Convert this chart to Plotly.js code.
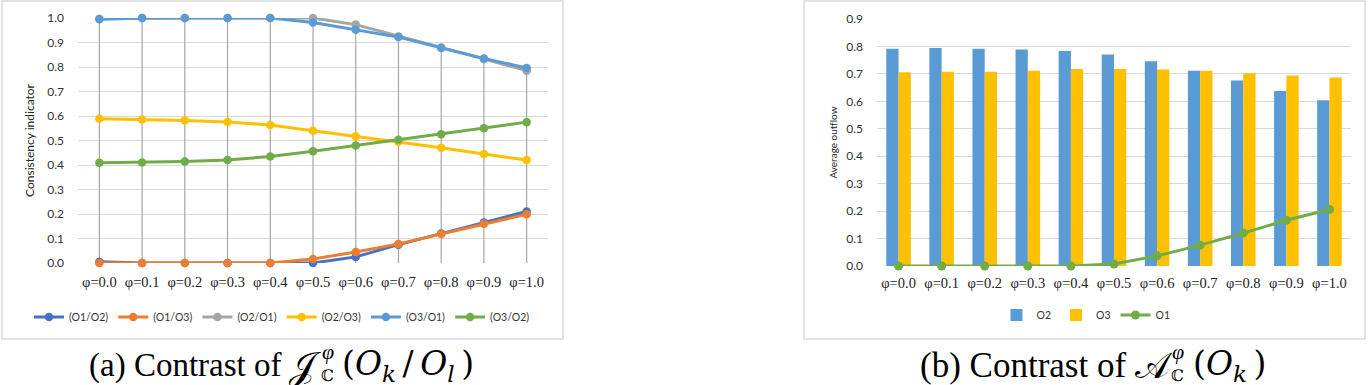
<!DOCTYPE html>
<html>
<head>
<meta charset="utf-8">
<script src="https://cdn.plot.ly/plotly-3.0.1.min.js"></script>
<style>html,body{margin:0;padding:0;background:#fff;}#chart{width:1370px;height:385px;}</style>
</head>
<body>
<div id="chart"></div>
<script>
// ---------- data ----------
const phiLabels = ['φ=0.0','φ=0.1','φ=0.2','φ=0.3','φ=0.4','φ=0.5','φ=0.6','φ=0.7','φ=0.8','φ=0.9','φ=1.0'];

// panel (a): consistency indicator
const seriesNamesA = ['(O1/O2)','(O1/O3)','(O2/O1)','(O2/O3)','(O3/O1)','(O3/O2)'];
const o1o2 = [0.005,0,0,0,0,0,0.025,0.075,0.12,0.165,0.21];
const o1o3 = [0,0,0,0,0,0.016,0.045,0.078,0.118,0.16,0.199];
const o2o1 = [0.997,1,1,1,1,1,0.973,0.925,0.88,0.833,0.785];
const o2o3 = [0.589,0.586,0.582,0.576,0.563,0.54,0.517,0.495,0.47,0.445,0.42];
const o3o1 = [0.995,1,1,1,1,0.982,0.952,0.922,0.878,0.835,0.796];
const o3o2 = [0.409,0.41,0.414,0.42,0.435,0.456,0.48,0.503,0.526,0.55,0.575];

// panel (b): average outflow
const outO2 = [0.792,0.794,0.792,0.789,0.783,0.771,0.746,0.711,0.676,0.638,0.604];
const outO3 = [0.706,0.708,0.708,0.711,0.718,0.718,0.716,0.711,0.702,0.694,0.687];
const outO1 = [0,0,0,0,0,0.007,0.037,0.076,0.12,0.167,0.206];

// ---------- styling ----------
const colorsA = ['#4472C4','#ED7D31','#A5A5A5','#FFC000','#5B9BD5','#70AD47'];
const W = 1370, H = 385;
const px = x => x / W;
const py = y => 1 - y / H;
const sansFont = 'Lato, "Open Sans", sans-serif';
const serifFont = '"Liberation Serif", "DejaVu Serif", serif';
const mathFont = '"DejaVu Serif", serif';

const seriesA = [o1o2, o1o3, o2o1, o2o3, o3o1, o3o2];

// drop lines (from highest series value down to zero, per category)
const dropX = [], dropY = [];
phiLabels.forEach((c, i) => {
  const top = Math.max(...seriesA.map(s => s[i]));
  dropX.push(c, c, null);
  dropY.push(top, 0, null);
});

const traces = [];
traces.push({
  x: dropX, y: dropY, xaxis: 'x', yaxis: 'y', mode: 'lines',
  line: {color: '#A6A6A6', width: 1.2}, showlegend: false, hoverinfo: 'skip'
});
seriesA.forEach((s, k) => {
  traces.push({
    x: phiLabels, y: s, name: seriesNamesA[k], xaxis: 'x', yaxis: 'y',
    mode: 'lines+markers', cliponaxis: false,
    line: {color: colorsA[k], width: 3},
    marker: {color: colorsA[k], size: 8.5},
    legend: 'legend'
  });
});

traces.push({
  x: phiLabels, y: outO2, name: 'O2', type: 'bar', xaxis: 'x2', yaxis: 'y2',
  marker: {color: '#5B9BD5'}, legend: 'legend2'
});
traces.push({
  x: phiLabels, y: outO3, name: 'O3', type: 'bar', xaxis: 'x2', yaxis: 'y2',
  marker: {color: '#FFC000'}, legend: 'legend2'
});
traces.push({
  x: phiLabels, y: outO1, name: 'O1', xaxis: 'x2', yaxis: 'y2',
  mode: 'lines+markers', cliponaxis: false,
  line: {color: '#70AD47', width: 3}, marker: {color: '#70AD47', size: 9},
  legend: 'legend2'
});

const tickFontY = {family: sansFont, size: 12, color: '#333'};
const tickFontX = {family: serifFont, size: 14.5, color: '#222'};

const capY = 365;
const layout = {
  width: W, height: H,
  margin: {l: 0, r: 0, t: 0, b: 0},
  paper_bgcolor: '#fff', plot_bgcolor: 'rgba(0,0,0,0)',
  showlegend: true,
  barmode: 'group', bargap: 0.43, bargroupgap: 0,
  xaxis: {
    domain: [px(78), px(548)], anchor: 'y', type: 'category',
    range: [-0.5, 10.5], showgrid: false, zeroline: false, showline: false,
    ticks: '', tickfont: tickFontX, ticklabelstandoff: 8
  },
  yaxis: {
    domain: [py(263), py(18)], anchor: 'x', range: [0, 1], dtick: 0.1,
    tickformat: '.1f', showgrid: true, gridcolor: '#D9D9D9', gridwidth: 1,
    zeroline: false, showline: false, ticks: '', tickfont: tickFontY,
    ticklabelstandoff: 13,
    title: {text: 'Consistency indicator', font: {family: sansFont, size: 12, color: '#222'}, standoff: 10}
  },
  xaxis2: {
    domain: [px(877), px(1351)], anchor: 'y2', type: 'category',
    range: [-0.5, 10.5], showgrid: false, zeroline: false, showline: false,
    ticks: '', tickfont: tickFontX, ticklabelstandoff: 6
  },
  yaxis2: {
    domain: [py(266), py(19)], anchor: 'x2', range: [0, 0.9], dtick: 0.1,
    tickformat: '.1f', showgrid: true, gridcolor: '#D9D9D9', gridwidth: 1,
    zeroline: false, showline: false, ticks: '', tickfont: tickFontY,
    ticklabelstandoff: 13,
    title: {text: 'Average outflow', font: {family: sansFont, size: 10, color: '#222'}, standoff: 6}
  },
  legend: {
    orientation: 'h', x: px(282), xanchor: 'center', y: py(317), yanchor: 'middle',
    font: {family: sansFont, size: 10.5, color: '#333'}, itemwidth: 30,
    bgcolor: 'rgba(0,0,0,0)', traceorder: 'normal'
  },
  legend2: {
    orientation: 'h', x: px(1086), xanchor: 'center', y: py(315), yanchor: 'middle',
    font: {family: sansFont, size: 10.5, color: '#333'}, itemwidth: 30,
    bgcolor: 'rgba(0,0,0,0)', traceorder: 'normal'
  },
  shapes: [
    {type: 'rect', xref: 'paper', yref: 'paper', x0: px(2), x1: px(563), y0: py(339), y1: py(1),
     line: {color: '#D9D9D9', width: 1.5}, fillcolor: 'rgba(0,0,0,0)', layer: 'below'},
    {type: 'rect', xref: 'paper', yref: 'paper', x0: px(804), x1: px(1365), y0: py(339), y1: py(1),
     line: {color: '#D9D9D9', width: 1.5}, fillcolor: 'rgba(0,0,0,0)', layer: 'below'}
  ],
  annotations: [
    // caption (a)
    {xref: 'paper', yref: 'paper', x: px(283), y: py(capY), xanchor: 'right', yanchor: 'middle',
     text: '(a) Contrast of', showarrow: false, font: {family: serifFont, size: 33, color: '#000'}},
    {xref: 'paper', yref: 'paper', x: px(287), y: py(capY + 1), xanchor: 'left', yanchor: 'middle',
     text: '𝒥', showarrow: false, font: {family: serifFont, size: 38, color: '#000'}},
    {xref: 'paper', yref: 'paper', x: px(320), y: py(351), xanchor: 'left', yanchor: 'middle',
     text: '<i>φ</i>', showarrow: false, font: {family: serifFont, size: 22, color: '#000'}},
    {xref: 'paper', yref: 'paper', x: px(319), y: py(375), xanchor: 'left', yanchor: 'middle',
     text: 'ℂ', showarrow: false, font: {family: mathFont, size: 16, color: '#000'}},
    {xref: 'paper', yref: 'paper', x: px(340), y: py(capY), xanchor: 'left', yanchor: 'middle',
     text: '(<i>O</i><sub><i>k</i></sub>\u2009/\u2009<i>O</i><sub><i>l</i></sub>\u2009)', showarrow: false,
     font: {family: mathFont, size: 33, color: '#000'}},
    // caption (b)
    {xref: 'paper', yref: 'paper', x: px(1128), y: py(capY), xanchor: 'right', yanchor: 'middle',
     text: '(b) Contrast of', showarrow: false, font: {family: serifFont, size: 35, color: '#000'}},
    {xref: 'paper', yref: 'paper', x: px(1133), y: py(capY + 1), xanchor: 'left', yanchor: 'middle',
     text: '𝒜', showarrow: false, font: {family: serifFont, size: 36, color: '#000'}},
    {xref: 'paper', yref: 'paper', x: px(1170), y: py(351), xanchor: 'left', yanchor: 'middle',
     text: '<i>φ</i>', showarrow: false, font: {family: serifFont, size: 22, color: '#000'}},
    {xref: 'paper', yref: 'paper', x: px(1169), y: py(375), xanchor: 'left', yanchor: 'middle',
     text: 'ℂ', showarrow: false, font: {family: mathFont, size: 16, color: '#000'}},
    {xref: 'paper', yref: 'paper', x: px(1191), y: py(capY), xanchor: 'left', yanchor: 'middle',
     text: '(<i>O</i><sub><i>k</i></sub>\u2009)', showarrow: false,
     font: {family: mathFont, size: 33, color: '#000'}}
  ]
};

Plotly.newPlot('chart', traces, layout, {displayModeBar: false, staticPlot: true});
</script>
</body>
</html>
